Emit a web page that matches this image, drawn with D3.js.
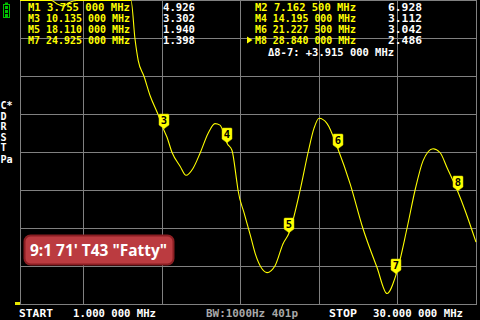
<!DOCTYPE html>
<html><head><meta charset="utf-8">
<script src="https://cdn.jsdelivr.net/npm/d3@7/dist/d3.min.js"></script>
<style>html,body{margin:0;padding:0;background:#000;}svg{display:block;}</style>
</head><body>
<script>
// ---- data ----
const freqMHz = [1.0,2.0,3.0,3.4,3.755,4.1,4.6,5.5,6.4,7.1625,7.5,7.8,8.06,8.31,8.52,8.89,9.27,9.78,10.135,10.35,10.67,11.18,11.56,12.0,12.45,12.96,13.4,13.72,14.195,14.48,14.78,14.87,15.26,15.65,15.96,16.39,16.71,17.22,17.73,18.11,18.81,19.32,19.7,20.02,20.53,21.2275,21.99,22.81,23.7,24.34,24.925,25.61,26.12,26.63,27.27,27.71,28.16,28.84,29.3,30.0];
const swrValues = [5.45,5.2,5.02,4.95,4.926,4.97,5.15,5.8,6.5,6.928,6.7,6.0,5.0,4.5,4.21,4.0,3.75,3.5,3.302,3.2,3.0,2.82,2.7,2.79,2.99,3.25,3.38,3.36,3.112,3.03,2.63,2.5,2.2,1.91,1.67,1.47,1.42,1.51,1.8,1.94,2.5,3.0,3.32,3.45,3.38,3.042,2.59,2.0,1.49,1.145,1.398,2.0,2.5,2.89,3.05,3.0,2.8,2.486,2.24,1.82];
const markerIds = [1,2,3,4,5,6,7,8];
const markerFreqText = ["3.755 000 MHz","7.162 500 MHz","10.135 000 MHz","14.195 000 MHz","18.110 000 MHz","21.227 500 MHz","24.925 000 MHz","28.840 000 MHz"];
const markerFreq = [3.755,7.1625,10.135,14.195,18.11,21.2275,24.925,28.84];
const markerSwr = [4.926,6.928,3.302,3.112,1.940,3.042,1.398,2.486];
const gridFreqTicks = [5,10,15,20,25,30];
const gridSwrTicks = [1,1.5,2,2.5,3,3.5,4,4.5,5];
const sideLabels = ["C*","D","R","S","T","Pa"];
const deltaText = "\u03948-7: +3.915 000 MHz";
const startText = ["START","1.000 000 MHz"];
const stopText = ["STOP","30.000 000 MHz"];
const bwText = "BW:1000Hz 401p";
const badgeText = "9:1 71' T43 \"Fatty\"";

// ---- drawing ----
const W=480,H=320;
const svg=d3.select("body").append("svg").attr("width",W).attr("height",H).style("background","#000");
const x=d3.scaleLinear().domain([1,30]).range([20,476]);
const y=d3.scaleLinear().domain([1,5]).range([304,0]).clamp(true);
const mono="'DejaVu Sans Mono', monospace";
const grid="#808080";

const g=svg.append("g");
// vertical grid
g.selectAll("line.vx").data([1].concat(gridFreqTicks)).join("line")
 .attr("x1",d=>Math.round(x(d))+0.5).attr("x2",d=>Math.round(x(d))+0.5)
 .attr("y1",0).attr("y2",305).attr("stroke",grid).attr("stroke-width",1);
// horizontal grid
g.selectAll("line.hy").data(gridSwrTicks).join("line")
 .attr("y1",d=>Math.round(y(d))+0.5).attr("y2",d=>Math.round(y(d))+0.5)
 .attr("x1",20).attr("x2",477).attr("stroke",grid).attr("stroke-width",1);

// trace
const pts=freqMHz.map((f,i)=>[f,swrValues[i]]);
const line=d3.line().x(d=>x(d[0])).y(d=>y(d[1])+0.5).curve(d3.curveMonotoneX);
svg.append("path").attr("d",line(pts)).attr("fill","none").attr("stroke","#ffff00").attr("stroke-width",1.1);

// reference pointer
svg.append("path").attr("d",`M15,${y(1)-2} L20,${y(1)-2} L20,${y(1)+1} L15,${y(1)+1} Z`).attr("fill","#e8e800");

// markers
markerIds.forEach((id,i)=>{
  const ty=y(markerSwr[i]);
  if(markerSwr[i]>4.6) return;
  const tx=Math.round(x(markerFreq[i]));
  const mg=svg.append("g").attr("transform",`translate(${tx},${Math.round(ty)})`);
  mg.append("path").attr("d","M-5,-14 Q-5,-15 -4,-15 L4,-15 Q5,-15 5,-14 L5,-4 L1,-1 L0,0 L-1,-1 L-5,-4 Z")
    .attr("fill","#ffff00").attr("stroke","#c8c800").attr("stroke-width",0.5);
  mg.append("text").attr("x",0).attr("y",-5.5).attr("text-anchor","middle")
    .attr("font-family",mono).attr("font-weight","bold").attr("font-size",10.5).attr("fill","#000").text(id);
});

// marker readouts
const rowsL=[0,2,4,6], rowsR=[1,3,5,7];
rowsL.forEach((mi,r)=>{
  const by=10.7+r*11;
  svg.append("text").attr("x",28).attr("y",by).attr("font-family",mono).attr("font-weight","bold")
   .attr("font-size",10.5).attr("fill","#ffff00").attr("textLength",102).attr("lengthAdjust","spacingAndGlyphs")
   .text(`M${markerIds[mi]} ${markerFreqText[mi]}`);
  svg.append("text").attr("x",163).attr("y",by).attr("font-family",mono).attr("font-weight","bold")
   .attr("font-size",10.5).attr("fill","#fff").attr("textLength",32).attr("lengthAdjust","spacingAndGlyphs")
   .text(markerSwr[mi].toFixed(3));
});
rowsR.forEach((mi,r)=>{
  const by=10.7+r*11;
  svg.append("text").attr("x",255).attr("y",by).attr("font-family",mono).attr("font-weight","bold")
   .attr("font-size",10.5).attr("fill","#ffff00").attr("textLength",101).attr("lengthAdjust","spacingAndGlyphs")
   .text(`M${markerIds[mi]} ${markerFreqText[mi]}`);
  svg.append("text").attr("x",388).attr("y",by).attr("font-family",mono).attr("font-weight","bold")
   .attr("font-size",10.5).attr("fill","#fff").attr("textLength",34).attr("lengthAdjust","spacingAndGlyphs")
   .text(markerSwr[mi].toFixed(3));
});
// active marker arrow
svg.append("path").attr("d","M247,36.5 L252.5,40 L247,43.5 Z").attr("fill","#ffff00");
svg.append("text").attr("x",268).attr("y",56).attr("font-family",mono).attr("font-weight","bold")
 .attr("font-size",10.5).attr("fill","#fff").attr("textLength",126).attr("lengthAdjust","spacingAndGlyphs").text(deltaText);

// battery icon
const bat=svg.append("g");
bat.append("rect").attr("x",5).attr("y",2.5).attr("width",3).attr("height",2).attr("fill","#00c000");
bat.append("rect").attr("x",3.5).attr("y",4.5).attr("width",6).attr("height",13).attr("fill","none").attr("stroke","#00c000").attr("stroke-width",1);
[0,1,2].forEach(k=>bat.append("rect").attr("x",5).attr("y",6+k*4).attr("width",3).attr("height",3).attr("fill","#00c000"));

// side labels
const sideY=[109.5,120,130.5,141,151.5,163];
sideLabels.forEach((t,i)=>{
  svg.append("text").attr("x",0.5).attr("y",sideY[i]).attr("font-family",mono).attr("font-weight","bold")
   .attr("font-size",8.8).attr("fill","#fff").attr("transform",`translate(0.5,${sideY[i]}) scale(1.15,1.12) translate(-0.5,${-sideY[i]})`).text(t);
});

// bottom texts
const bt=(tx,xx,w,col)=>svg.append("text").attr("x",xx).attr("y",317).attr("font-family",mono).attr("font-weight","bold")
  .attr("font-size",10.5).attr("fill",col).attr("textLength",w).attr("lengthAdjust","spacingAndGlyphs").text(tx);
bt(startText[0],19,34,"#fff");
bt(startText[1],73,83,"#fff");
bt(bwText,206,92,"#a8a8a8");
bt(stopText[0],329,28,"#fff");
bt(stopText[1],373,90,"#fff");

// badge
svg.append("rect").attr("x",24.5).attr("y",235.5).attr("width",149).attr("height",29).attr("rx",6)
 .attr("fill","#bb3b40").attr("stroke","#8a1e22").attr("stroke-width",2);
svg.append("text").attr("x",30).attr("y",256).attr("font-family","'Open Sans', sans-serif").attr("font-weight","bold")
 .attr("font-size",16).attr("fill","#fff").attr("textLength",137).attr("lengthAdjust","spacingAndGlyphs").text(badgeText);
</script>
</body></html>
